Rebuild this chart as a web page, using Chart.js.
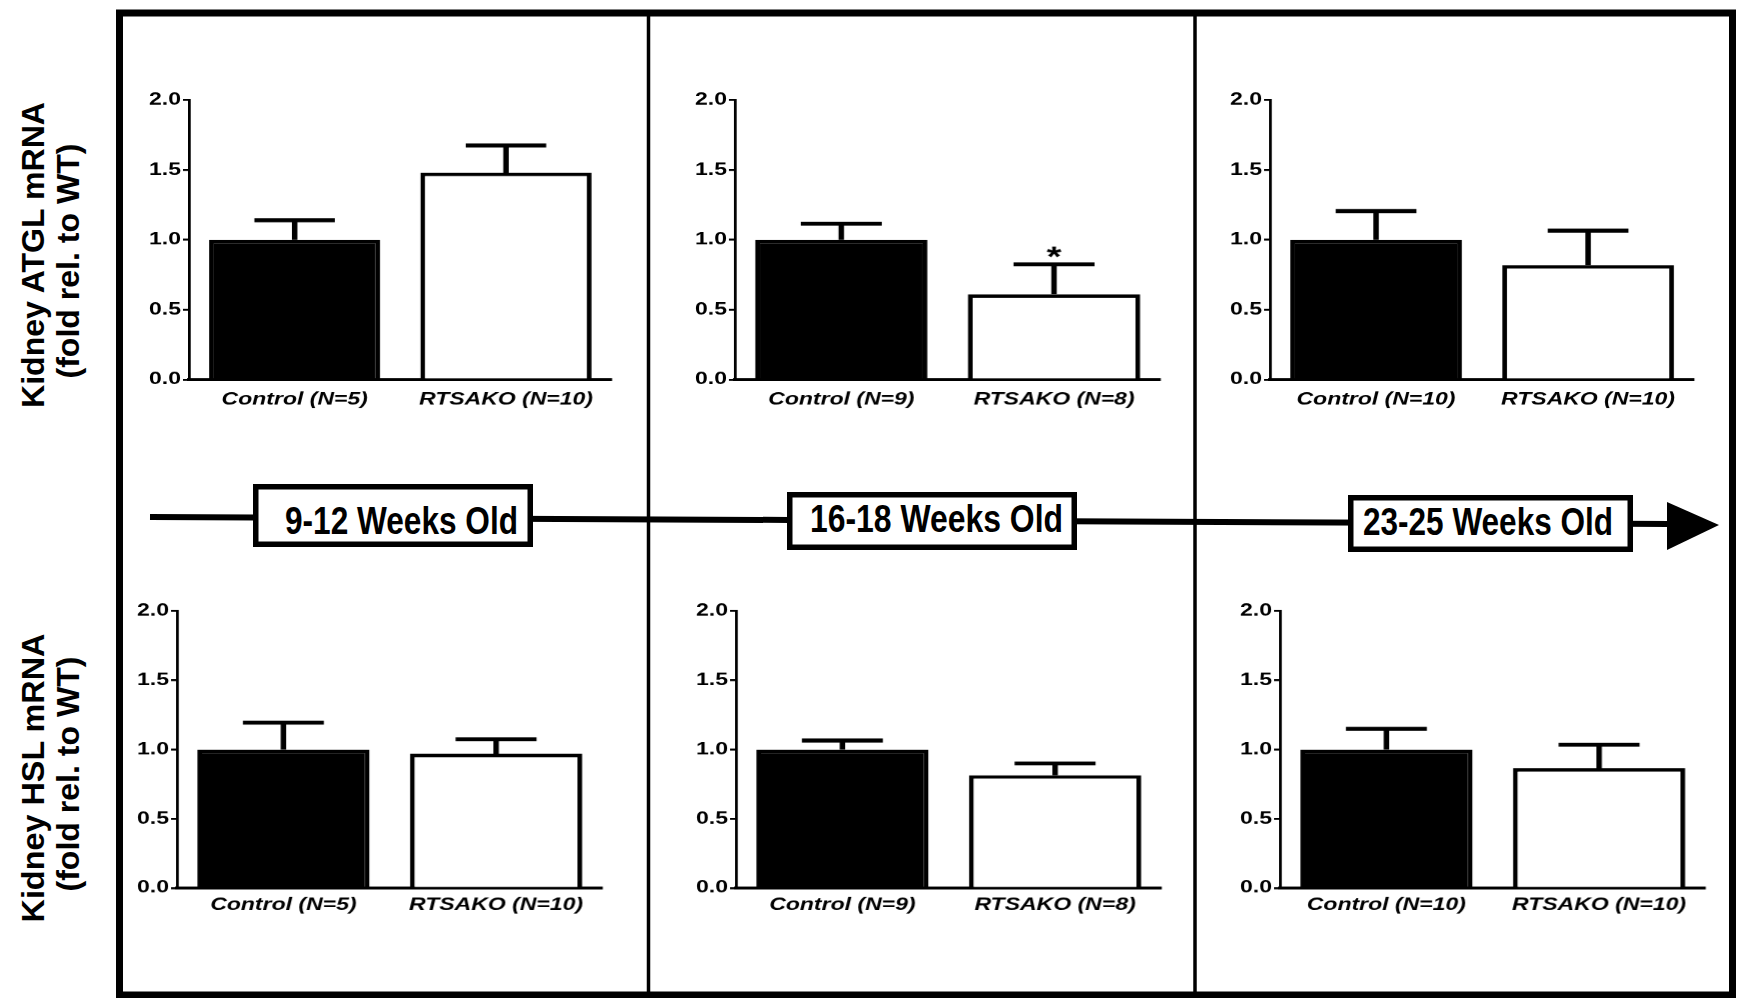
<!DOCTYPE html>
<html>
<head>
<meta charset="utf-8">
<script src="https://cdn.jsdelivr.net/npm/chart.js@4.4.1/dist/chart.umd.min.js"></script>
<style>
  html, body { margin: 0; padding: 0; background: #fff; }
  body { width: 1742px; height: 998px; position: relative; overflow: hidden; }
  .panel { position: absolute; transform-origin: 0 0; }
  #deco { position: absolute; left: 0; top: 0; }
</style>
</head>
<body>
<svg id="deco" width="1742" height="998" xmlns="http://www.w3.org/2000/svg">
  <rect x="119.5" y="13" width="1613" height="982" fill="none" stroke="#000" stroke-width="7"/>
  <line x1="648.5" y1="13" x2="648.5" y2="995" stroke="#000" stroke-width="3.5"/>
  <line x1="1195" y1="13" x2="1195" y2="995" stroke="#000" stroke-width="3.5"/>
  <polyline points="150,517 790,520 1669,524" fill="none" stroke="#000" stroke-width="6"/>
  <polygon points="1667,502 1719,525 1667,550" fill="#000"/>
  <g id="boxes"></g>
  <g id="titles"></g>
</svg>
<div id="p0" class="panel"><canvas></canvas></div>
<div id="p1" class="panel"><canvas></canvas></div>
<div id="p2" class="panel"><canvas></canvas></div>
<div id="p3" class="panel"><canvas></canvas></div>
<div id="p4" class="panel"><canvas></canvas></div>
<div id="p5" class="panel"><canvas></canvas></div>
<script>
// data
const ageGroups = ['9-12 Weeks Old', '16-18 Weeks Old', '23-25 Weeks Old'];
const categories = [
  ['Control (N=5)', 'RTSAKO (N=10)'],
  ['Control (N=9)', 'RTSAKO (N=8)'],
  ['Control (N=10)', 'RTSAKO (N=10)']
];
const atglMean = [[1.00, 1.48], [1.00, 0.61], [1.00, 0.82]];
const atglSem  = [[0.14, 0.195], [0.115, 0.215], [0.205, 0.245]];
const atglSig  = [['', ''], ['', '*'], ['', '']];
const hslMean  = [[1.00, 0.97], [1.00, 0.815], [1.00, 0.865]];
const hslSem   = [[0.195, 0.105], [0.065, 0.085], [0.15, 0.17]];
const hslSig   = [['', ''], ['', ''], ['', '']];
const yTicks   = [0, 0.5, 1.0, 1.5, 2.0];
const yTitles  = [['Kidney ATGL mRNA', '(fold rel. to WT)'], ['Kidney HSL mRNA', '(fold rel. to WT)']];

// layout (page pixels)
const S = 1.37; // the panels are stretched sideways in the original
const FONT = "'Liberation Sans', Arial, sans-serif";
const plotAreas = [
  { l: 189, r: 612, t: 100, b: 379 }, { l: 735, r: 1161, t: 100, b: 379 }, { l: 1270, r: 1694, t: 100, b: 379 },
  { l: 177, r: 602, t: 611, b: 888 }, { l: 736, r: 1161, t: 611, b: 888 }, { l: 1280, r: 1705, t: 611, b: 888 }
];
const ageBoxes = [
  { x: 253, y: 484, w: 280, h: 63, tx: 285, tl: 233, base: 534 },
  { x: 787, y: 492, w: 290, h: 58, tx: 810, tl: 253, base: 532 },
  { x: 1348, y: 495, w: 285, h: 57, tx: 1363, tl: 250, base: 535 }
];
const titlePos = [
  [{ x: 44, y: 255, len: 306 }, { x: 79, y: 261, len: 235 }],
  [{ x: 44, y: 778, len: 289 }, { x: 79, y: 774, len: 235 }]
];

const NS = 'http://www.w3.org/2000/svg';
function svgEl(tag, attrs, text) {
  const el = document.createElementNS(NS, tag);
  for (const k in attrs) el.setAttribute(k, attrs[k]);
  if (text) el.textContent = text;
  return el;
}

const boxLayer = document.getElementById('boxes');
ageGroups.forEach((g, i) => {
  const b = ageBoxes[i];
  boxLayer.appendChild(svgEl('rect', { x: b.x + 2.75, y: b.y + 2.75, width: b.w - 5.5, height: b.h - 5.5,
    fill: '#fff', stroke: '#000', 'stroke-width': 5.5 }));
  boxLayer.appendChild(svgEl('text', { x: b.tx, y: b.base, 'font-family': FONT, 'font-weight': 'bold',
    'font-size': 39, textLength: b.tl, lengthAdjust: 'spacingAndGlyphs', fill: '#000' }, g));
});

const titleLayer = document.getElementById('titles');
yTitles.forEach((lines, r) => {
  lines.forEach((t, k) => {
    const p = titlePos[r][k];
    titleLayer.appendChild(svgEl('text', { x: -p.len / 2, y: 0, transform: `translate(${p.x},${p.y}) rotate(-90)`,
      'font-family': FONT, 'font-weight': 'bold', 'font-size': 32, textLength: p.len,
      lengthAdjust: 'spacingAndGlyphs', fill: '#000' }, t));
  });
});

// error bars and significance marks, placed with the y scale
const errorBars = {
  id: 'errorBars',
  afterDatasetsDraw(chart) {
    const { ctx } = chart;
    const y = chart.scales.y;
    const ds = chart.data.datasets[0];
    const meta = chart.getDatasetMeta(0);
    ctx.save();
    ctx.strokeStyle = '#000';
    ctx.fillStyle = '#000';
    ctx.lineWidth = 4;
    meta.data.forEach((bar, i) => {
      const top = y.getPixelForValue(ds.data[i] + ds.sem[i]);
      const half = bar.width * 0.235;
      ctx.beginPath();
      ctx.moveTo(bar.x, bar.y);
      ctx.lineTo(bar.x, top);
      ctx.moveTo(bar.x - half, top);
      ctx.lineTo(bar.x + half, top);
      ctx.stroke();
      if (ds.sig[i]) {
        ctx.font = 'bold 28px ' + FONT;
        ctx.textAlign = 'center';
        ctx.textBaseline = 'alphabetic';
        ctx.fillText(ds.sig[i], bar.x, top + 2);
      }
    });
    ctx.restore();
  }
};

function makePanel(idx, labels, mean, sem, sig) {
  const a = plotAreas[idx];
  const row = idx < 3 ? 0 : 1;
  const left = a.l - 62, right = a.r + 14, top = a.t - 18, bottom = a.b + 46;
  const box = document.getElementById('p' + idx);
  box.style.left = left + 'px';
  box.style.top = top + 'px';
  box.style.width = ((right - left) / S) + 'px';
  box.style.height = (bottom - top) + 'px';
  box.style.transform = `scaleX(${S})`;

  new Chart(box.querySelector('canvas'), {
    type: 'bar',
    data: {
      labels: labels,
      datasets: [{
        data: mean,
        sem: sem,
        sig: sig,
        backgroundColor: ['#000', '#fff'],
        borderColor: '#000',
        borderWidth: 3.5,
        borderSkipped: 'start',
        barPercentage: 0.81,
        categoryPercentage: 1
      }]
    },
    options: {
      responsive: true,
      maintainAspectRatio: false,
      animation: false,
      devicePixelRatio: S,
      layout: { padding: { left: 0, right: 14 / S, top: 18, bottom: 0 } },
      plugins: { legend: { display: false }, tooltip: { enabled: false } },
      scales: {
        x: {
          type: 'category',
          offset: true,
          grid: { display: false, drawTicks: false },
          border: { display: true, color: '#000', width: 3 },
          ticks: { color: '#000', padding: row ? 7 : 10, maxRotation: 0, autoSkip: false,
            font: { family: FONT, size: 16.8, weight: 'bold', style: 'italic' } },
          afterFit: s => { s.height = 46; }
        },
        y: {
          min: 0,
          max: 2,
          grid: { display: true, drawOnChartArea: false, drawTicks: true, tickLength: 6 / S, color: '#000', lineWidth: 2 },
          border: { display: true, color: '#000', width: 2 },
          ticks: { color: '#000', padding: 1.5, font: { family: FONT, size: 16.8, weight: 'bold' },
            callback: v => Number(v).toFixed(1) },
          afterBuildTicks: s => { s.ticks = yTicks.map(v => ({ value: v })); },
          afterFit: s => { s.width = 62 / S; }
        }
      }
    },
    plugins: [errorBars]
  });
}

for (let i = 0; i < 3; i++) {
  makePanel(i, categories[i], atglMean[i], atglSem[i], atglSig[i]);
  makePanel(i + 3, categories[i], hslMean[i], hslSem[i], hslSig[i]);
}
</script>
</body>
</html>
